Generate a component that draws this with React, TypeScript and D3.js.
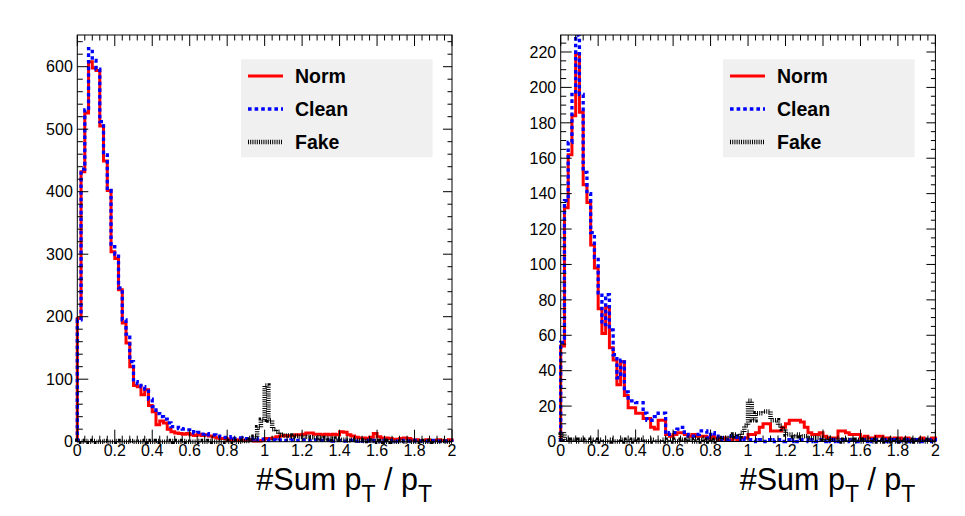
import React from "react";
import * as d3 from "d3";

// ---- data (100 bins, 0..2, width 0.02) ----
const pad1Norm = [197,432,526,608,598,594,505,449,402,304,293,243,190,158,120,90,88,75,83,58,48,27,33,30,20,16,14,13,12,13,11,10,12,10,11,9,8,6,5,5,3,4,2,3,2,3,2,1,1,2,5,5,6,8,9,10,9,10,11,11,12,14,14,12,12,11,12,11,12,11,16,15,11,9,7,6,6,5,7,13,8,6,6,5,4,4,5,6,5,3,3,2,2,3,2,2,3,2,2,3];
const pad1Clean = [195,436,531,629,610,596,512,459,402,312,300,246,195,172,128,96,93,88,84,68,56,45,40,36,30,24,23,21,20,19,16,14,15,12,13,11,11,9,8,7,6,8,5,6,5,5,4,5,3,4,4,2,3,2,3,2,2,3,2,2,3,2,2,3,2,2,2,3,1,2,2,1,2,2,1,2,1,2,1,2,1,1,2,1,2,1,1,2,1,1,2,1,1,1,2,1,1,1,1,1];
const pad1Fake = [1,0,1,0,1,0,0,1,0,0,1,0,0,0,1,0,0,0,1,0,0,1,0,0,0,1,0,0,1,0,0,0,1,0,0,1,0,0,0,1,0,1,0,0,1,1,3,8,23,35,90,34,20,16,11,10,10,8,9,8,7,8,7,6,7,5,6,5,4,5,3,3,2,3,2,2,1,2,1,1,0,1,0,1,0,0,1,0,1,0,0,1,0,0,1,0,0,1,0,0];

const pad2Norm = [54,132,162,184,219,186,145,135,111,98,75,61,76,53,46,32,45,26,19,19,16,16,13,13,8,7,12,12,4,3,4,5,5,4,3,4,3,3,3,2,3,2,1,2,1,1,2,1,2,2,4,4,5,8,10,10,6,6,6,8,10,12,12,12,11,8,5,4,4,5,3,2,2,2,6,6,5,4,4,4,2,3,2,2,3,3,2,2,1,2,2,1,2,1,1,1,2,1,1,2];
const pad2Clean = [56,136,169,196,235,196,152,140,118,104,84,66,83,63,49,36,46,28,23,23,22,22,16,12,12,14,16,16,4,5,5,7,8,4,3,3,4,6,6,2,5,3,2,1,1,3,3,1,2,1,1,1,0,1,0,1,0,1,1,0,1,0,1,0,1,1,0,1,0,1,0,1,0,1,0,1,1,0,1,0,1,0,1,0,1,1,0,1,0,1,0,1,0,1,0,1,0,1,0,1];
const pad2Fake = [4,1,0,1,0,1,0,0,1,0,1,0,0,1,0,0,1,0,0,1,0,1,0,0,1,0,0,1,0,1,0,0,1,0,1,0,0,1,0,1,0,1,1,2,2,3,4,3,5,9,23,12,16,16,17,17,12,12,9,7,4,4,3,4,3,3,2,2,2,2,1,2,1,1,1,0,1,1,0,1,0,1,1,0,1,0,1,0,1,0,1,0,1,0,1,0,1,0,1,0];

const xTickValues = [0, 0.2, 0.4, 0.6, 0.8, 1, 1.2, 1.4, 1.6, 1.8, 2];
const xTickLabels = ["0", "0.2", "0.4", "0.6", "0.8", "1", "1.2", "1.4", "1.6", "1.8", "2"];
const pad1YTicks = [0, 100, 200, 300, 400, 500, 600];
const pad2YTicks = [0, 20, 40, 60, 80, 100, 120, 140, 160, 180, 200, 220];
const legendLabels = ["Norm", "Clean", "Fake"];

const X_MIN = 0;
const X_MAX = 2;
const BIN_W = 0.02;

const FONT = "'Liberation Sans', Arial, Helvetica, sans-serif";

const seriesStyle = [
  { color: "#ff0000", width: 3, dash: undefined as string | undefined },
  { color: "#0000ff", width: 3.3, dash: "3.6,3" },
  { color: "#000000", width: 4.5, dash: "1,1.2" },
];

type PadCfg = {
  id: string;
  left: number;
  right: number;
  top: number;
  bottom: number;
  ymax: number;
  yTicks: number[];
  yMinor: number;
  series: number[][];
  legendX: number;
};

const pads: PadCfg[] = [
  { id: "p1", left: 77.3, right: 452, top: 35, bottom: 441.7, ymax: 650.7, yTicks: pad1YTicks, yMinor: 20, series: [pad1Norm, pad1Clean, pad1Fake], legendX: 241 },
  { id: "p2", left: 560.7, right: 935.4, top: 35, bottom: 441.5, ymax: 229.6, yTicks: pad2YTicks, yMinor: 5, series: [pad2Norm, pad2Clean, pad2Fake], legendX: 723 },
];

function Pad({ cfg }: { cfg: PadCfg }) {
  const x = d3.scaleLinear().domain([X_MIN, X_MAX]).range([cfg.left, cfg.right]);
  const y = d3.scaleLinear().domain([0, cfg.ymax]).range([cfg.bottom, cfg.top]);
  const line = d3
    .line<[number, number]>()
    .x((d) => x(d[0]))
    .y((d) => y(Math.min(d[1], cfg.ymax)));

  const stepPts = (vals: number[]): [number, number][] => {
    const pts: [number, number][] = [[X_MIN, 0]];
    vals.forEach((v, i) => {
      pts.push([X_MIN + i * BIN_W, v]);
      pts.push([X_MIN + (i + 1) * BIN_W, v]);
    });
    pts.push([X_MAX, 0]);
    return pts;
  };

  const xMinor = d3.range(0, 51).map((i) => X_MIN + i * 0.04);
  const yMinorTicks = d3.range(0, Math.floor(cfg.ymax / cfg.yMinor) + 1).map((i) => i * cfg.yMinor);
  const yMajorStep = cfg.yTicks[1] - cfg.yTicks[0];

  const clipId = `clip-${cfg.id}`;
  const lg = { x: cfg.legendX, y: 59.3, w: 191.5, h: 98 };
  const rowY = [76, 109, 142];

  return (
    <g>
      <defs>
        <clipPath id={clipId}>
          <rect x={cfg.left - 3} y={cfg.top} width={cfg.right - cfg.left + 6} height={cfg.bottom - cfg.top + 4} />
        </clipPath>
      </defs>
      {/* histograms */}
      <g clipPath={`url(#${clipId})`}>
        {cfg.series.map((vals, si) => (
          <path
            key={si}
            d={line(stepPts(vals)) || ""}
            fill="none"
            stroke={seriesStyle[si].color}
            strokeWidth={seriesStyle[si].width}
            strokeDasharray={seriesStyle[si].dash}
            strokeLinejoin="miter"
            strokeLinecap="butt"
          />
        ))}
      </g>
      {/* frame */}
      <rect x={cfg.left} y={cfg.top} width={cfg.right - cfg.left} height={cfg.bottom - cfg.top} fill="none" stroke="#000" strokeWidth={1} />
      {/* x ticks bottom & top */}
      {xMinor.map((v, i) => {
        const major = i % 5 === 0;
        const px = x(v);
        return (
          <g key={`xt${i}`} stroke="#000" strokeWidth={1}>
            <line x1={px} x2={px} y1={cfg.bottom} y2={cfg.bottom - (major ? 12 : 6)} />
            <line x1={px} x2={px} y1={cfg.top} y2={cfg.top + (major ? 11 : 5.5)} />
          </g>
        );
      })}
      {/* y ticks left & right */}
      {yMinorTicks.map((v, i) => {
        const major = Math.abs(v / yMajorStep - Math.round(v / yMajorStep)) < 1e-6;
        const py = y(v);
        return (
          <g key={`yt${i}`} stroke="#000" strokeWidth={1}>
            <line x1={cfg.left} x2={cfg.left + (major ? 11 : 5.5)} y1={py} y2={py} />
            <line x1={cfg.right} x2={cfg.right - (major ? 9 : 4.5)} y1={py} y2={py} />
          </g>
        );
      })}
      {/* x labels */}
      {xTickValues.map((v, i) => (
        <text key={`xl${i}`} x={x(v)} y={456} textAnchor="middle" fontFamily={FONT} fontSize={16} fill="#000">
          {xTickLabels[i]}
        </text>
      ))}
      {/* y labels */}
      {cfg.yTicks.map((v) => (
        <text key={`yl${v}`} x={cfg.left - 4.5} y={y(v) + 5.7} textAnchor="end" fontFamily={FONT} fontSize={16} fill="#000">
          {String(v)}
        </text>
      ))}
      {/* axis title */}
      <text x={cfg.right - 20} y={490} textAnchor="end" fontFamily={FONT} fontSize={30.5} fill="#000">
        #Sum p<tspan fontSize={23} dy={12}>T</tspan>
        <tspan dy={-12}> / p</tspan>
        <tspan fontSize={23} dy={12}>T</tspan>
      </text>
      {/* legend */}
      <rect x={lg.x} y={lg.y} width={lg.w} height={lg.h} fill="#f0f0f0" />
      {legendLabels.map((lab, i) => (
        <g key={lab}>
          <line
            x1={lg.x + 7}
            x2={lg.x + 42}
            y1={rowY[i]}
            y2={rowY[i]}
            stroke={seriesStyle[i].color}
            strokeWidth={seriesStyle[i].width}
            strokeDasharray={seriesStyle[i].dash}
          />
          <text x={lg.x + 54} y={rowY[i] + 7} fontFamily={FONT} fontWeight="bold" fontSize={19.5} fill="#000">
            {lab}
          </text>
        </g>
      ))}
    </g>
  );
}

export default function App() {
  return (
    <svg width={965} height={516} style={{ position: "absolute", left: 0, top: 0, background: "#fff" }}>
      <rect x={0} y={0} width={965} height={516} fill="#fff" />
      {pads.map((p) => (
        <Pad key={p.id} cfg={p} />
      ))}
    </svg>
  );
}
